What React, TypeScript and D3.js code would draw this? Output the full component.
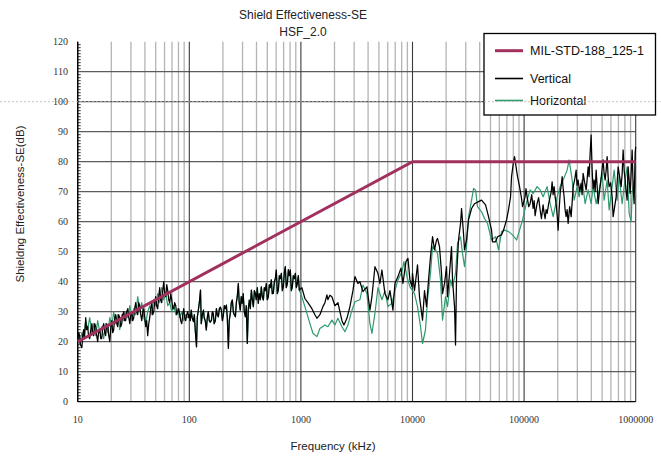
import React from "react";
import * as d3 from "d3";

// Shielding effectiveness of HSF_2.0 vs. the MIL-STD-188-125-1 requirement
const freqTicks = [10, 100, 1000, 10000, 100000, 1000000];
const seTicks = [0, 10, 20, 30, 40, 50, 60, 70, 80, 90, 100, 110, 120];

// Requirement line: 20 dB at 10 kHz rising to 80 dB at 10 MHz, flat above
const milStdFreq = [10, 10000, 1000000];
const milStdSE = [20, 80, 80];

// Vertical polarisation, 10–100 kHz
const verticalLow: [number, number][] = [
  [10, 20], [10.2, 23], [10.4, 22], [10.6, 19], [10.9, 18], [11.1, 22], [11.3, 24], [11.5, 21],
  [11.8, 28], [12.0, 24], [12.3, 25], [12.5, 22], [12.8, 21], [13.1, 24], [13.4, 26], [13.6, 23],
  [13.9, 22], [14.2, 26], [14.5, 25], [14.8, 22], [15.1, 20], [15.4, 23], [15.8, 24], [16.1, 21],
  [16.4, 21], [16.8, 25], [17.1, 26], [17.5, 23], [17.8, 22], [18.2, 26], [18.6, 25], [19.0, 22],
  [19.4, 20], [19.8, 25], [20.2, 27], [20.6, 23], [21.0, 24], [21.5, 28], [21.9, 29], [22.4, 26],
  [22.8, 25], [23.3, 29], [23.8, 28], [24.3, 25], [24.8, 26], [25.3, 29], [25.9, 30], [26.4, 27],
  [26.9, 27], [27.5, 30], [28.1, 31], [28.7, 28], [29.3, 26], [29.9, 29], [30.5, 30], [31.1, 27],
  [31.8, 28], [32.4, 31], [33.1, 33], [33.8, 30], [34.5, 29], [35.2, 33], [36.0, 32], [36.7, 29],
  [37.5, 27], [38.3, 30], [39.1, 31], [39.9, 28], [40.7, 25], [41.5, 27], [42.4, 22], [43.3, 26],
  [44.2, 28], [45.1, 31], [46.1, 33], [47.0, 29], [48.0, 30], [49.0, 33], [50.0, 35], [51.0, 32],
  [52.1, 31], [53.2, 35], [54.3, 38], [55.4, 34], [56.6, 33], [57.8, 37], [59.0, 40], [60.2, 36],
  [61.5, 35], [62.8, 39], [64.1, 37], [65.4, 34], [66.8, 33], [68.2, 36], [69.6, 34], [71.0, 31],
  [72.5, 31], [74.0, 33], [75.6, 32], [77.2, 29], [78.8, 30], [80.4, 31], [82.1, 29], [83.8, 27],
  [85.6, 26], [87.4, 29], [89.2, 31], [91.0, 28], [92.9, 27], [94.8, 29], [96.8, 30], [98.8, 28],
];

// Both polarisations coincide between 100 kHz and 1 MHz
const commonMid: [number, number][] = [
  [100, 29], [102, 27], [104, 30.5], [106, 28], [109, 26.7], [111, 29], [113, 24], [116, 18.3],
  [118, 28.3], [120, 30], [123, 33], [126, 37.2], [128, 26], [131, 29], [134, 30.5], [136, 28],
  [139, 27], [142, 23.9], [145, 28], [148, 30], [151, 27], [154, 26.5], [158, 27.2], [161, 30],
  [164, 29.4], [167, 26], [171, 27], [175, 31], [178, 29], [182, 28.3], [186, 31], [190, 31.5],
  [194, 30.5], [198, 27], [202, 28.9], [206, 32], [210, 31], [215, 32.2], [219, 28], [224, 17.8],
  [228, 27], [233, 29.4], [238, 33], [243, 33.9], [248, 30], [253, 29], [259, 28.3], [264, 33],
  [269, 35], [275, 39.4], [280, 33], [286, 30.5], [292, 35], [298, 32.8], [304, 36], [311, 30],
  [318, 28.3], [324, 32], [331, 19.4], [338, 31], [345, 33.9], [352, 31], [360, 37.2], [367, 34],
  [375, 31.7], [383, 37], [391, 36], [398, 34], [407, 38], [415, 32.8], [424, 36], [433, 34],
  [442, 38.3], [451, 35], [461, 33.9], [470, 38], [480, 37], [490, 39.4], [500, 34], [511, 35],
  [521, 39], [532, 38], [543, 40.6], [554, 36], [566, 36.1], [578, 40], [590, 41], [602, 43.9],
  [615, 36], [628, 37.2], [641, 42], [654, 41], [668, 42.8], [682, 37], [696, 38.3], [710, 43],
  [725, 45], [740, 38], [756, 39.4], [772, 44], [788, 42], [804, 43.9], [821, 37], [838, 38.3],
  [855, 42], [873, 41], [892, 42.8], [910, 38], [929, 39.4], [948, 42], [968, 37.2],
];

// Vertical polarisation, 1 MHz – 1 GHz
const verticalHigh: [number, number][] = [
  [1020, 38], [1086, 34.4], [1155, 33], [1255, 31], [1335, 29], [1392, 27.8], [1480, 29], [1575, 31.7],
  [1642, 33], [1711, 35.6], [1745, 34], [1818, 35.5], [1895, 35], [2018, 32], [2146, 33], [2237, 30],
  [2332, 27], [2430, 25.6], [2585, 27.8], [2750, 31.7], [2926, 37], [3049, 41.7], [3243, 39.4], [3380, 40],
  [3597, 36.7], [3748, 37.5], [3906, 38.3], [4155, 30.5], [4330, 35], [4607, 45], [4901, 42.8], [5107, 39.4],
  [5322, 43.9], [5663, 36], [6025, 34], [6279, 37], [6680, 30.5], [6961, 39.4], [7406, 41.7], [7879, 44.5],
  [8210, 39.4], [8735, 46.7], [9103, 47.8], [9486, 40.6], [9886, 38.3],
  [10000, 42.8], [10420, 37], [11090, 45.6], [11550, 35], [12300, 27.2], [12810, 37], [13350, 31.7],
  [13920, 40.6], [14500, 48.3], [15120, 55], [15750, 50.6], [16420, 53.9], [16760, 54.4], [17460, 51.7],
  [18200, 42.8], [18580, 36], [19360, 39.4], [20180, 45], [20600, 35], [21470, 42.8], [22370, 51.7],
  [22840, 40.6], [23800, 31.7], [24300, 18.9], [24810, 41.7], [25850, 54], [26940, 59.4], [27510, 64.4],
  [28660, 56], [29260, 50.6], [30490, 54], [31780, 60.6], [33830, 64.4], [35970, 66], [39060, 66.7],
  [41560, 67.2], [45130, 65.6], [48010, 61.7], [51070, 57.2], [52140, 53.3], [55480, 53.3], [57810, 55],
  [62790, 55.6], [65430, 57.2], [69610, 60.6], [72540, 64], [75600, 68.3], [77170, 75], [80420, 80],
  [82100, 81.7], [85560, 77.2], [87340, 75], [91020, 71.7], [94860, 67.8], [96840, 65],
  [102000, 68.3], [104000, 71], [106400, 68.3], [110000, 65], [113200, 66], [117000, 69], [120500, 64.4],
  [123000, 67], [125500, 62], [128000, 64], [130700, 66], [135000, 68], [139200, 63.9], [143000, 61],
  [148000, 65.6], [151000, 63], [154300, 61], [157500, 64], [160800, 62.8], [166000, 66], [171100, 68.3],
  [175000, 70], [178300, 73.3], [182000, 69], [185800, 71.7], [190000, 68], [193600, 66], [198000, 62],
  [201800, 57.2], [206000, 63.9], [211000, 70], [215000, 72], [219200, 75], [224000, 71], [228400, 68.3],
  [233000, 64], [238000, 61.7], [243000, 64], [248100, 59.4], [256000, 65], [264000, 61.7], [270000, 67],
  [275100, 71.7], [284000, 74], [292600, 77.2], [298000, 72], [304900, 73.9], [314000, 70], [324300, 72.8],
  [331000, 69], [338000, 76.1], [349000, 73], [359700, 70.6], [367000, 74], [374800, 78.3], [382000, 75],
  [390600, 82.8], [398600, 88.9], [407100, 77.2], [415000, 71], [424200, 73.9], [433000, 70], [442100, 77.2],
  [451000, 72], [460700, 66], [470000, 69], [480100, 71.7], [495000, 76], [510700, 80.6], [521000, 76],
  [532200, 73.9], [543000, 77], [554800, 81.7], [566000, 75], [578100, 71.7], [596000, 73], [615000, 68.3],
  [627900, 61.7], [648000, 65], [668000, 68.3], [682000, 73], [696100, 78.3], [718000, 75], [740600, 71.7],
  [756000, 76], [771700, 83.9], [788000, 77], [804200, 73.9], [821000, 70], [838000, 67.2], [855600, 78.3],
  [873000, 74], [891700, 69.4], [910000, 76], [929300, 83.9], [948600, 71.7], [968000, 66], [988400, 82.8],
  [1000000, 85],
];

// Horizontal polarisation, 10–100 kHz
const horizontalLow: [number, number][] = [
  [10, 21], [10.4, 19], [10.9, 23], [11.3, 21], [11.8, 27], [12.3, 24], [12.8, 28], [13.4, 23],
  [13.9, 26], [14.5, 22], [15.1, 27], [15.8, 23], [16.4, 25], [17.1, 21], [17.8, 26], [18.6, 23],
  [19.4, 28], [20.2, 25], [21.0, 30], [21.9, 26], [22.8, 29], [23.8, 24], [24.8, 29], [25.9, 27],
  [26.9, 30], [28.1, 28], [29.3, 32], [30.5, 27], [31.8, 31], [33.1, 29], [34.5, 35], [36.0, 30],
  [37.5, 33], [39.1, 28], [40.7, 26], [42.4, 30], [44.2, 32], [46.1, 29], [48.0, 34], [50.0, 32],
  [52.1, 36], [54.3, 33], [56.6, 38], [59.0, 34], [61.5, 36], [64.1, 32], [66.8, 33], [69.6, 30],
  [72.5, 32], [75.6, 29], [78.8, 31], [82.1, 28], [85.6, 30], [89.2, 27], [92.9, 29], [96.8, 28],
];

// Horizontal polarisation, 1 MHz – 1 GHz
const horizontalHigh: [number, number][] = [
  [1020, 35], [1086, 31.7], [1205, 26], [1282, 22.8], [1392, 21.7], [1480, 24.4], [1642, 25.6], [1745, 25],
  [1895, 27.2], [2018, 25.6], [2146, 27.8], [2332, 25], [2481, 23.3], [2640, 25.6], [2868, 30.5], [3049, 33.3],
  [3380, 34], [3597, 38.9], [3906, 36], [4155, 26], [4330, 22.8], [4607, 29.4], [4901, 38], [5322, 34],
  [5663, 37], [6025, 31.7], [6542, 32.8], [6961, 37], [7406, 40.6], [8044, 43.3], [8381, 46.7], [8918, 41.7],
  [9486, 38.3], [10420, 36], [11090, 31.7], [11800, 25], [12300, 19.4], [13070, 23.9], [13630, 34],
  [14500, 42.8], [15120, 51.7], [16080, 50.6], [16760, 49.4], [17830, 40.6], [18580, 27.2], [19770, 35],
  [20600, 31.7], [21920, 40.6], [22840, 38.3], [24300, 42.8], [25330, 52.8], [26940, 55], [28080, 49.4],
  [29260, 45], [30490, 51.7], [31780, 61.7], [33830, 67.2], [35250, 71.1], [36730, 70.6], [38270, 65],
  [41560, 63.3], [44210, 61.1], [47030, 59.4], [51070, 53.9], [55480, 55], [59020, 50.6], [62790, 56.7],
  [66800, 57.2], [72540, 56.7], [78790, 55.6], [85560, 53.9], [91020, 57.2], [96840, 60.6],
  [106400, 67.2], [113200, 70.6], [120500, 69.4], [130700, 71.7], [139200, 70.6], [148000, 68.3],
  [160800, 71.7], [171100, 66], [182100, 61.7], [197700, 68.3], [210300, 71.7], [223800, 73.9], [243000, 77.2],
  [253200, 80.6], [269500, 73.9], [280800, 67.2], [298700, 71.7], [311300, 68.3], [331100, 73.9], [352300, 66],
  [374800, 70.6], [398600, 66], [415500, 71.7], [442100, 66], [470300, 70.6], [500300, 76.1], [521300, 67.2],
  [554800, 73.9], [578100, 63.9], [615000, 71.7], [641000, 77.2], [681900, 67.2], [710600, 75], [756000, 66],
  [787900, 71.7], [838000, 78.3], [873400, 62.8], [910000, 60], [929300, 69.4], [968400, 73.9], [1000000, 68.3],
];

const verticalSeries = [...verticalLow, ...commonMid, ...verticalHigh];
const horizontalSeries = [...horizontalLow, ...commonMid, ...horizontalHigh];

const W = 661;
const H = 459;
const left = 77.7;
const right = 635.7;
const top = 41.7;
const bottom = 401.7;

const x = d3.scaleLog().domain([10, 1000000]).range([left, right]);
const y = d3.scaleLinear().domain([0, 120]).range([bottom, top]);

const line = d3
  .line<[number, number]>()
  .x((d) => x(d[0]))
  .y((d) => y(d[1]));

const minorFreqs: number[] = [];
for (let i = 0; i < freqTicks.length - 1; i++) {
  for (let m = 2; m <= 9; m++) minorFreqs.push(freqTicks[i] * m);
}
const minorSE = d3.range(0, 121, 1).filter((v) => v % 10 !== 0);

const sans = "'Liberation Sans', Arial, sans-serif";
const serif = "'Liberation Serif', 'Times New Roman', serif";

const milColor = "#a2305f";
const vertColor = "#000000";
const horzColor = "#2f9a6c";

export default function App() {
  const milPts: [number, number][] = milStdFreq.map((f, i) => [f, milStdSE[i]]);
  return (
    <svg
      width={W}
      height={H}
      style={{ position: "fixed", left: 0, top: 0, background: "#fff" }}
    >
      <rect width={W} height={H} fill="#fff" />
      {/* minor frequency gridlines */}
      {minorFreqs.map((f) => (
        <line key={"mf" + f} x1={x(f)} x2={x(f)} y1={top} y2={bottom} stroke="#b4b4b4" strokeWidth={1.3} />
      ))}
      {/* horizontal gridlines */}
      {seTicks.filter((v) => v > 0 && v < 120).map((v) => (
        <line key={"h" + v} x1={left} x2={right} y1={y(v)} y2={y(v)} stroke="#5c5c5c" strokeWidth={1.3} />
      ))}
      {/* decade gridlines */}
      {freqTicks.map((f) => (
        <line key={"d" + f} x1={x(f)} x2={x(f)} y1={top} y2={bottom} stroke="#3a3a3a" strokeWidth={1.1} />
      ))}
      {/* axes */}
      <line x1={left} x2={left} y1={top} y2={bottom} stroke="#000" strokeWidth={1.3} />
      <line x1={left} x2={right} y1={bottom} y2={bottom} stroke="#000" strokeWidth={1.3} />
      {minorSE.map((v) => (
        <line key={"ms" + v} x1={left} x2={left + 3} y1={y(v)} y2={y(v)} stroke="#000" strokeWidth={0.8} />
      ))}

      {/* measured data */}
      <path d={line(horizontalSeries) || ""} fill="none" stroke={horzColor} strokeWidth={1.2} strokeLinejoin="round" />
      <path d={line(verticalSeries) || ""} fill="none" stroke={vertColor} strokeWidth={1.25} strokeLinejoin="round" />
      <path d={line(milPts) || ""} fill="none" stroke={milColor} strokeWidth={3} />

      {/* tick labels */}
      {seTicks.map((v) => (
        <text key={"yl" + v} x={68} y={y(v) + 3.5} textAnchor="end" fontFamily={serif} fontSize={10} fill="#333">
          {v}
        </text>
      ))}
      {freqTicks.map((f) => (
        <text key={"xl" + f} x={x(f)} y={423} textAnchor="middle" fontFamily={serif} fontSize={10} fill="#333">
          {f}
        </text>
      ))}

      {/* titles */}
      <text x={303} y={19} textAnchor="middle" fontFamily={sans} fontSize={12} fill="#222">
        Shield Effectiveness-SE
      </text>
      <text x={303} y={36} textAnchor="middle" fontFamily={sans} fontSize={12} fill="#222">
        HSF_2.0
      </text>
      <text x={333} y={450} textAnchor="middle" fontFamily={sans} fontSize={11.5} fill="#222">
        Frequency (kHz)
      </text>
      <text
        transform={`translate(24,204) rotate(-90)`}
        textAnchor="middle"
        fontFamily={sans}
        fontSize={11.5}
        fill="#222"
      >
        Shieldng Effectiveness-SE(dB)
      </text>

      {/* legend */}
      <rect x={484} y={33.5} width={171.5} height={81.5} fill="#fff" stroke="#000" strokeWidth={1.3} />
      <line x1={495} x2={523} y1={50.7} y2={50.7} stroke={milColor} strokeWidth={3} />
      <text x={530} y={55} fontFamily={sans} fontSize={12.5} fill="#111">MIL-STD-188_125-1</text>
      <line x1={495} x2={523} y1={78.5} y2={78.5} stroke={vertColor} strokeWidth={1.6} />
      <text x={530} y={83} fontFamily={sans} fontSize={12.5} fill="#111">Vertical</text>
      <line x1={495} x2={523} y1={100.5} y2={100.5} stroke={horzColor} strokeWidth={1.6} />
      <text x={530} y={105} fontFamily={sans} fontSize={12.5} fill="#111">Horizontal</text>

      {/* dashed guide at 100 dB across the page */}
      <line x1={0} x2={W} y1={y(100)} y2={y(100)} stroke="#b8b8b8" strokeWidth={0.8} strokeDasharray="2,2" />
    </svg>
  );
}
